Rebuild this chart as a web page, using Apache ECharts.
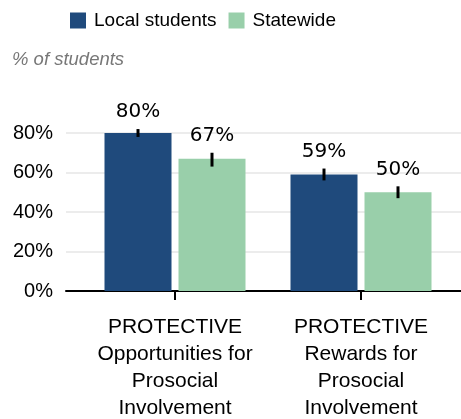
<!DOCTYPE html>
<html>
<head>
<meta charset="utf-8">
<script src="https://cdn.jsdelivr.net/npm/echarts@6/dist/echarts.min.js"></script>
<style>html,body{margin:0;padding:0;background:#fff}#c{width:461px;height:419px}</style>
</head>
<body>
<div id="c"></div>
<script>
const categories = ['PROTECTIVE\nOpportunities for\nProsocial\nInvolvement', 'PROTECTIVE\nRewards for\nProsocial\nInvolvement'];
const seriesNames = ['Local students', 'Statewide'];
const localValues = [80, 59];
const statewideValues = [67, 50];
const localErrLow = [78, 56];
const localErrHigh = [82, 62];
const stateErrLow = [63, 47];
const stateErrHigh = [70, 53];
const yTicks = [0, 20, 40, 60, 80];

const colors = ['#1F4A7C', '#99CFAA'];
const BAR_W = 67, BAR_GAP = 7;
const FONT = '"Liberation Sans", Arial, sans-serif';

function errSeries(low, high, vals, sign, name) {
  return {
    type: 'custom', xAxisIndex: 1, yAxisIndex: 1, z: 10, silent: true,
    name: name + ' err',
    data: vals.map((v, i) => [i, low[i], high[i], v]),
    renderItem: function (params, api) {
      const i = api.value(0);
      const off = sign * (BAR_W + BAR_GAP) / 2;
      const top = api.coord([i, api.value(2)]);
      const bot = api.coord([i, api.value(1)]);
      const x = top[0] + off;
      return {
        type: 'group',
        children: [
          { type: 'line', shape: { x1: x, y1: top[1], x2: x, y2: bot[1] }, style: { stroke: '#000', lineWidth: 3 } },
          { type: 'text', x: x, y: top[1] - 17, style: { text: api.value(3) + '%', align: 'center', verticalAlign: 'middle', font: '20px "DejaVu Sans", sans-serif', fill: '#000' } }
        ]
      };
    }
  };
}

const chart = echarts.init(document.getElementById('c'), null, { renderer: 'canvas' });
chart.setOption({
  animation: false,
  textStyle: { fontFamily: FONT },
  legend: {
    left: 70, top: 11, padding: 0, itemWidth: 16, itemHeight: 16, itemGap: 12,
    icon: 'rect', data: seriesNames,
    textStyle: { fontSize: 19, color: '#000', fontFamily: FONT, padding: [0, 0, 0, 3] }
  },
  graphic: [{ type: 'text', left: 12, top: 50, style: { text: '% of students', font: 'italic 18.5px "Liberation Sans", Arial, sans-serif', fill: '#777' } }],
  grid: [
    { left: 66, right: 0, top: 133, bottom: 128, containLabel: false, outerBoundsMode: 'none' },
    { left: 82, right: 7, top: 133, bottom: 128, containLabel: false, outerBoundsMode: 'none' }
  ],
  xAxis: [
    { type: 'value', gridIndex: 0, min: 0, max: 1, axisLine: { show: true, lineStyle: { color: '#000', width: 2 } }, axisTick: { show: false }, axisLabel: { show: false }, splitLine: { show: false } },
    { type: 'category', gridIndex: 1, data: categories,
      axisLine: { show: false }, axisTick: { show: true, alignWithLabel: true, length: 9, lineStyle: { color: '#000', width: 2 } },
      axisLabel: { fontSize: 21, color: '#000', lineHeight: 27, margin: 23, fontFamily: FONT, interval: 0 } }
  ],
  yAxis: [
    { type: 'value', gridIndex: 0, min: 0, max: 80, interval: 20,
      axisLine: { show: false }, axisTick: { show: false },
      axisLabel: { fontSize: 20, color: '#000', margin: 13, fontFamily: FONT, formatter: v => yTicks.includes(v) ? v + '%' : '' },
      splitLine: { show: true, lineStyle: { color: '#e6e6e6', width: 1.5 } } },
    { type: 'value', gridIndex: 1, min: 0, max: 80, interval: 20, show: false }
  ],
  series: [
    { name: seriesNames[0], type: 'bar', xAxisIndex: 1, yAxisIndex: 1, data: localValues, barWidth: BAR_W, barGap: (BAR_GAP / BAR_W * 100) + '%', itemStyle: { color: colors[0] } },
    { name: seriesNames[1], type: 'bar', xAxisIndex: 1, yAxisIndex: 1, data: statewideValues, barWidth: BAR_W, itemStyle: { color: colors[1] } },
    errSeries(localErrLow, localErrHigh, localValues, -1, seriesNames[0]),
    errSeries(stateErrLow, stateErrHigh, statewideValues, 1, seriesNames[1])
  ]
});
</script>
</body>
</html>
